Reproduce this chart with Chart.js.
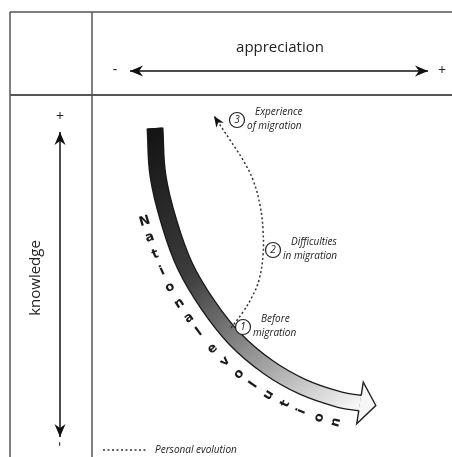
<!DOCTYPE html>
<html>
<head>
<meta charset="utf-8">
<script src="https://cdn.jsdelivr.net/npm/chart.js@4.4.1/dist/chart.umd.min.js"></script>
<style>
  html, body { margin: 0; padding: 0; background: #fff; }
  canvas { display: block; }
</style>
</head>
<body>
<canvas id="diagram" width="452" height="457"></canvas>
<script>
// Diagram values (x to the right, y downward)
const frameX = [[10, 452], [10, 10], [92, 92], [10, 452]];
const frameY = [[12, 12], [12, 457], [12, 457], [95, 95]];

const appreciationX = [130, 428];
const appreciationY = [71, 71];
const knowledgeX = [60, 60];
const knowledgeY = [437, 132];

// National evolution (thick band)
const nationalX = [155, 158, 169, 185, 208, 235, 268, 303, 341, 360];
const nationalY = [128, 176, 222, 266, 305, 339, 367, 387, 400, 403];
const nationalLabel = 'National evolution';

// Personal evolution (dotted path)
const personalX = [231, 243, 252, 259, 263, 263, 260, 253, 243, 230, 214];
const personalY = [328, 312, 297, 280, 255, 230, 205, 180, 160, 140, 116];

// Stages along personal evolution
const stageNumbers = ['1', '2', '3'];
const stageX = [243, 273, 237];
const stageY = [327, 250, 120];
const stageLines = [['Before', 'migration'], ['Difficulties', 'in migration'], ['Experience', 'of migration']];

const legendX = [103, 148];
const legendY = [450, 450];
const legendLabel = 'Personal evolution';

const toPts = (xs, ys) => xs.map((x, i) => ({ x, y: ys[i] }));

const frameSets = frameX.map((xs, i) => ({
    data: toPts(xs, frameY[i]),
    borderColor: '#555',
    borderWidth: i === 3 ? 2 : 1.5,
    showLine: true,
    pointRadius: 0
}));
const BAND = frameSets.length + 2;   // index of band outline dataset
const PERSONAL = frameSets.length + 4;

function bandGradient(context) {
    const chart = context.chart;
    if (!chart.chartArea) return '#333';
    const sx = chart.scales.x, sy = chart.scales.y;
    const g = chart.ctx.createLinearGradient(
        sx.getPixelForValue(nationalX[0]), sy.getPixelForValue(nationalY[0]),
        sx.getPixelForValue(nationalX[nationalX.length - 1]), sy.getPixelForValue(nationalY[nationalY.length - 1]));
    g.addColorStop(0, '#141414');
    g.addColorStop(0.4, '#3c3c3c');
    g.addColorStop(0.72, '#9a9a9a');
    g.addColorStop(1, '#f6f6f6');
    return g;
}

function arrowHead(ctx, tipX, tipY, dx, dy, len, half) {
    const n = Math.hypot(dx, dy); dx /= n; dy /= n;
    const bx = tipX - dx * len, by = tipY - dy * len;
    ctx.beginPath();
    ctx.moveTo(tipX, tipY);
    ctx.lineTo(bx - dy * half, by + dx * half);
    ctx.lineTo(tipX - dx * len * 0.7, tipY - dy * len * 0.7);
    ctx.lineTo(bx + dy * half, by - dx * half);
    ctx.closePath();
    ctx.fill();
}

const diagramPlugin = {
    id: 'diagram',
    afterDatasetsDraw(chart) {
        const ctx = chart.ctx;
        const sx = chart.scales.x, sy = chart.scales.y;
        const X = v => sx.getPixelForValue(v), Y = v => sy.getPixelForValue(v);
        ctx.save();

        // axis arrowheads
        ctx.fillStyle = '#111';
        arrowHead(ctx, X(appreciationX[0]), Y(appreciationY[0]), -1, 0, 13, 5.5);
        arrowHead(ctx, X(appreciationX[1]), Y(appreciationY[1]), 1, 0, 13, 5.5);
        arrowHead(ctx, X(knowledgeX[0]), Y(knowledgeY[0]), 0, 1, 13, 5.5);
        arrowHead(ctx, X(knowledgeX[1]), Y(knowledgeY[1]), 0, -1, 13, 5.5);

        // axis texts
        ctx.fillStyle = '#222';
        ctx.textAlign = 'center';
        ctx.textBaseline = 'middle';
        ctx.font = '15px "Open Sans", sans-serif';
        ctx.fillText('appreciation', 280, 48);
        ctx.font = '14px "Open Sans", sans-serif';
        ctx.fillText('-', 115, 70);
        ctx.fillText('+', 442, 71);
        ctx.fillText('+', 60, 117);
        ctx.save();
        ctx.translate(36, 278);
        ctx.rotate(-Math.PI / 2);
        ctx.font = '15px "Open Sans", sans-serif';
        ctx.fillText('knowledge', 0, 0);
        ctx.restore();
        ctx.save();
        ctx.translate(60, 444);
        ctx.rotate(-Math.PI / 2);
        ctx.fillText('-', 0, 0);
        ctx.restore();

        // band arrowhead
        const band = chart.getDatasetMeta(BAND).data;
        const last = band[band.length - 1];
        let dx = last.x - last.cp1x, dy = last.y - last.cp1y;
        const dn = Math.hypot(dx, dy); dx /= dn; dy /= dn;
        const nx = -dy, ny = dx;
        const tipX = last.x + dx * 16, tipY = last.y + dy * 16;
        ctx.beginPath();
        ctx.moveTo(last.x + nx * 21, last.y + ny * 21);
        ctx.lineTo(tipX, tipY);
        ctx.lineTo(last.x - nx * 21, last.y - ny * 21);
        ctx.closePath();
        ctx.fillStyle = '#f6f6f6';
        ctx.fill();
        ctx.beginPath();
        ctx.moveTo(last.x + nx * 7.5, last.y + ny * 7.5);
        ctx.lineTo(last.x + nx * 21, last.y + ny * 21);
        ctx.lineTo(tipX, tipY);
        ctx.lineTo(last.x - nx * 21, last.y - ny * 21);
        ctx.lineTo(last.x - nx * 7.5, last.y - ny * 7.5);
        ctx.strokeStyle = '#222';
        ctx.lineWidth = 1.4;
        ctx.stroke();

        // sample band centerline for the letters
        const poly = [];
        for (let i = 0; i < band.length - 1; i++) {
            const a = band[i], b = band[i + 1];
            for (let k = 0; k < 20; k++) {
                const t = k / 20, u = 1 - t;
                poly.push({
                    x: u*u*u*a.x + 3*u*u*t*a.cp2x + 3*u*t*t*b.cp1x + t*t*t*b.x,
                    y: u*u*u*a.y + 3*u*u*t*a.cp2y + 3*u*t*t*b.cp1y + t*t*t*b.y
                });
            }
        }
        poly.push({ x: last.x, y: last.y });
        const cum = [0];
        for (let i = 1; i < poly.length; i++) cum.push(cum[i - 1] + Math.hypot(poly[i].x - poly[i-1].x, poly[i].y - poly[i-1].y));
        const at = s => {
            let i = 1;
            while (i < poly.length - 1 && cum[i] < s) i++;
            const a = poly[i - 1], b = poly[i];
            const t = (s - cum[i - 1]) / (cum[i] - cum[i - 1]);
            return { x: a.x + (b.x - a.x) * t, y: a.y + (b.y - a.y) * t, ang: Math.atan2(b.y - a.y, b.x - a.x) };
        };
        ctx.fillStyle = '#1a1a1a';
        ctx.font = 'bold 13px "DejaVu Sans", sans-serif';
        let s = 88;
        const step = 16.6;
        [...nationalLabel].forEach(ch => {
            if (ch === ' ') { s += step * 0.15; return; }
            const p = at(s);
            const ox = -Math.sin(p.ang), oy = Math.cos(p.ang);
            ctx.save();
            ctx.translate(p.x + ox * 23, p.y + oy * 23);
            ctx.rotate(p.ang - Math.PI / 2);
            ctx.fillText(ch, 0, 0);
            ctx.restore();
            s += step;
        });

        // personal path arrowhead
        const pers = chart.getDatasetMeta(PERSONAL).data;
        const pl = pers[pers.length - 1];
        ctx.fillStyle = '#111';
        arrowHead(ctx, pl.x, pl.y, pl.x - pl.cp1x, pl.y - pl.cp1y, 11, 4.5);

        // stage circles and labels
        stageNumbers.forEach((num, i) => {
            const cx = X(stageX[i]), cy = Y(stageY[i]);
            ctx.beginPath();
            ctx.arc(cx, cy, 7.5, 0, Math.PI * 2);
            ctx.fillStyle = '#fff';
            ctx.fill();
            ctx.strokeStyle = '#222';
            ctx.lineWidth = 1.2;
            ctx.stroke();
            ctx.fillStyle = '#222';
            ctx.textAlign = 'center';
            ctx.font = 'italic 10px "Open Sans", sans-serif';
            ctx.fillText(num, cx, cy + 0.5);
            ctx.textAlign = 'left';
            ctx.fillText(stageLines[i][0], cx + 18, cy - 8);
            ctx.fillText(stageLines[i][1], cx + 10, cy + 6);
        });

        // legend label
        ctx.textAlign = 'left';
        ctx.font = 'italic 10px "Open Sans", sans-serif';
        ctx.fillText(legendLabel, X(legendX[1]) + 7, Y(legendY[1]));
        ctx.restore();
    }
};

new Chart(document.getElementById('diagram'), {
    type: 'scatter',
    data: {
        datasets: [
            ...frameSets,
            { data: toPts(appreciationX, appreciationY), borderColor: '#111', borderWidth: 1.5, showLine: true, pointRadius: 0 },
            { data: toPts(knowledgeX, knowledgeY), borderColor: '#111', borderWidth: 1.5, showLine: true, pointRadius: 0 },
            { data: toPts(nationalX, nationalY), borderColor: '#1a1a1a', borderWidth: 17, borderCapStyle: 'butt', showLine: true, tension: 0.4, pointRadius: 0, order: 2 },
            { data: toPts(nationalX, nationalY), borderColor: bandGradient, borderWidth: 14.4, borderCapStyle: 'butt', showLine: true, tension: 0.4, pointRadius: 0, order: 1 },
            { data: toPts(personalX, personalY), borderColor: '#333', borderWidth: 1.5, borderDash: [2, 2.5], showLine: true, tension: 0.4, pointRadius: 0 },
            { data: toPts(legendX, legendY), borderColor: '#333', borderWidth: 1.5, borderDash: [2, 2.5], showLine: true, pointRadius: 0 }
        ]
    },
    options: {
        responsive: false,
        animation: false,
        devicePixelRatio: 1,
        layout: { padding: 0 },
        plugins: { legend: { display: false }, tooltip: { enabled: false } },
        scales: {
            x: { type: 'linear', min: 0, max: 452, display: false },
            y: { type: 'linear', min: 0, max: 457, reverse: true, display: false }
        }
    },
    plugins: [diagramPlugin]
});
</script>
</body>
</html>
